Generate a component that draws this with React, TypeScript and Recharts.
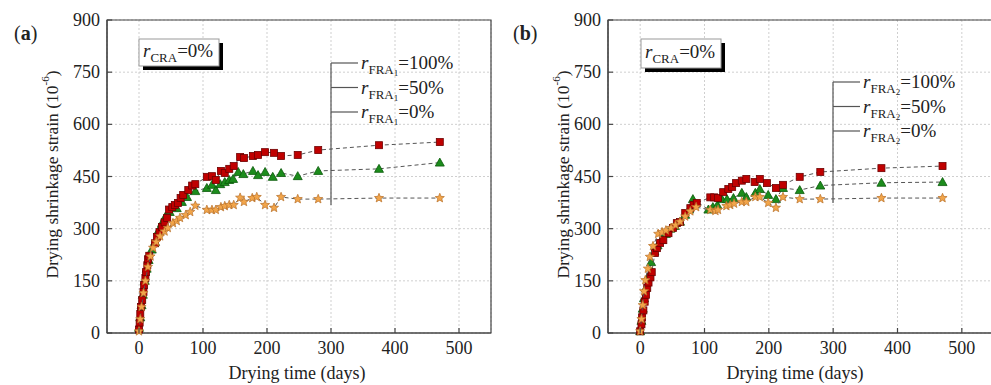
import { ScatterChart, Scatter, XAxis, YAxis, CartesianGrid, ReferenceArea } from 'recharts'

document.body.style.margin = '0'

const FONT = '"Liberation Serif", "Times New Roman", serif'

// drying time (days), shrinkage strain (1e-6)
const xTicks = [0, 100, 200, 300, 400, 500]
const yTicks = [0, 150, 300, 450, 600, 750, 900]

const aRed: [number, number][] = [
  [0, 10], [1, 30], [2, 55], [3, 75], [5, 95], [7, 118], [8, 138], [10, 158], [11, 175], [13, 195],
  [14, 212], [16, 222], [25, 258], [28, 276], [32, 290], [36, 305], [40, 318], [44, 331], [47, 355],
  [52, 362], [56, 368], [61, 374], [65, 388], [69, 397], [77, 411], [83, 424], [88, 428], [106, 449],
  [114, 451], [120, 440], [128, 466], [134, 460], [141, 472], [148, 480], [158, 506], [164, 503],
  [178, 509], [186, 512], [197, 520], [211, 518], [222, 509], [248, 512], [280, 526], [375, 540], [470, 549],
]
const aGreen: [number, number][] = [
  [0, 15], [2, 45], [4, 80], [6, 110], [9, 150], [12, 185], [15, 210], [20, 240], [25, 262], [31, 296],
  [36, 316], [41, 334], [48, 348], [59, 359], [67, 377], [75, 391], [88, 408], [106, 417], [114, 426],
  [120, 411], [127, 428], [134, 434], [141, 440], [147, 443], [155, 463], [163, 457], [178, 466],
  [186, 454], [197, 463], [209, 449], [222, 460], [248, 451], [280, 466], [375, 472], [470, 490],
]
const aOrange: [number, number][] = [
  [0, 5], [2, 40], [4, 75], [7, 115], [10, 150], [14, 190], [18, 220], [22, 245], [27, 262], [33, 278],
  [40, 292], [45, 302], [53, 316], [59, 322], [64, 331], [73, 339], [80, 348], [88, 366], [106, 354],
  [114, 354], [120, 354], [128, 362], [134, 365], [141, 368], [148, 368], [158, 389], [164, 377],
  [177, 388], [184, 391], [197, 368], [211, 360], [222, 391], [248, 385], [280, 385], [375, 388], [470, 388],
]

const bRed: [number, number][] = [
  [0, 5], [2, 25], [3, 45], [5, 65], [7, 90], [9, 110], [11, 130], [13, 145], [16, 160], [18, 175],
  [23, 230], [26, 244], [31, 259], [36, 267], [44, 287], [51, 302], [57, 316], [62, 319], [70, 345],
  [78, 359], [83, 368], [88, 374], [109, 390], [115, 390], [121, 388], [129, 405], [137, 414], [143, 420],
  [149, 431], [158, 438], [165, 443], [178, 434], [186, 443], [197, 431], [211, 417], [222, 426],
  [248, 449], [280, 463], [375, 474], [470, 480],
]
const bGreen: [number, number][] = [
  [0, 5], [2, 35], [4, 70], [6, 100], [9, 130], [12, 160], [17, 204], [22, 235], [27, 252], [33, 268],
  [40, 285], [47, 300], [54, 308], [62, 320], [70, 340], [76, 355], [82, 385], [106, 355], [113, 362],
  [120, 368], [127, 385], [135, 385], [145, 388], [158, 403], [165, 391], [179, 403], [186, 414],
  [199, 397], [211, 385], [222, 417], [248, 411], [280, 424], [375, 432], [470, 434],
]
const bOrange: [number, number][] = [
  [0, 5], [2, 40], [4, 80], [6, 120], [8, 152], [12, 185], [15, 219], [20, 250], [28, 285], [34, 290],
  [40, 295], [48, 302], [55, 310], [62, 320], [70, 335], [78, 350], [87, 362], [109, 354], [117, 351],
  [121, 354], [134, 365], [140, 368], [146, 372], [158, 377], [165, 377], [179, 391], [186, 391],
  [199, 374], [211, 360], [222, 391], [248, 385], [280, 385], [375, 388], [470, 388],
]

const toPts = (arr: [number, number][]) => arr.map(([x, y]) => ({ x, y }))

const Square = (p: any) => (
  <rect x={p.cx - 3.5} y={p.cy - 3.5} width={7} height={7} fill="#c00000" stroke="#6e0000" strokeWidth={0.8} />
)
const Tri = (p: any) => (
  <path
    d={`M${p.cx},${p.cy - 4.5}L${p.cx + 4.5},${p.cy + 3.5}L${p.cx - 4.5},${p.cy + 3.5}Z`}
    fill="#1c8c1c" stroke="#0b5a0b" strokeWidth={0.8}
  />
)
const Star = (p: any) => {
  let d = ''
  for (let i = 0; i < 10; i++) {
    const a = -Math.PI / 2 + (i * Math.PI) / 5
    const r = i % 2 ? 2.1 : 4.8
    d += `${i ? 'L' : 'M'}${p.cx + r * Math.cos(a)},${p.cy + r * Math.sin(a)}`
  }
  return <path d={d + 'Z'} fill="#f2a54a" stroke="#b8702a" strokeWidth={0.7} />
}

const XTick = ({ x, y, payload }: any) => (
  <g>
    <line x1={x} x2={x} y1={y} y2={y - 5} stroke="#444" strokeWidth={1.2} />
    <text x={x} y={y + 21} textAnchor="middle" fontSize={18} fill="#222" fontFamily={FONT}>{payload.value}</text>
  </g>
)
const YTick = ({ x, y, payload }: any) => (
  <g>
    <line x1={x} x2={x + 5} y1={y} y2={y} stroke="#444" strokeWidth={1.2} />
    <text x={x - 7} y={y + 6} textAnchor="end" fontSize={18} fill="#222" fontFamily={FONT}>{payload.value}</text>
  </g>
)

const line = { stroke: '#555', strokeWidth: 1, strokeDasharray: '4 3' }

function Panel({ red, green, orange, yAxisWidth, rightMargin, labelX, xLabelShift }: any) {
  return (
    <ScatterChart
      width={yAxisWidth + 388}
      height={385}
      margin={{ top: 20, right: rightMargin, bottom: 0, left: 0 }}
    >
      <CartesianGrid stroke="#cfcfcf" strokeDasharray="2 2" />
      <ReferenceArea x1={-50} x2={550} y1={0} y2={900} fill="none" stroke="#444" strokeWidth={1.2} />
      <XAxis
        type="number" dataKey="x" domain={[-50, 550]} ticks={xTicks}
        axisLine={{ stroke: '#444', strokeWidth: 1.2 }} tickLine={false} tickSize={0} tickMargin={0}
        tick={<XTick />} height={52}
        label={({ viewBox }: any) => (
          <text x={viewBox.x + viewBox.width / 2 + xLabelShift} y={viewBox.y + 46} textAnchor="middle"
            fontSize={18} fill="#222" fontFamily={FONT}>Drying time (days)</text>
        )}
      />
      <YAxis
        type="number" dataKey="y" domain={[0, 900]} ticks={yTicks}
        axisLine={{ stroke: '#444', strokeWidth: 1.2 }} tickLine={false} tickSize={0} tickMargin={0}
        tick={<YTick />} width={yAxisWidth}
        label={({ viewBox }: any) => {
          const cy = viewBox.y + viewBox.height / 2 - 2
          return (
            <text x={labelX} y={cy} transform={`rotate(-90, ${labelX}, ${cy})`} textAnchor="middle"
              dominantBaseline="central" fontSize={17.5} fill="#222" fontFamily={FONT}>
              Drying shrinkage strain (10<tspan dy={-7} fontSize={11}>-6</tspan><tspan dy={7}>)</tspan>
            </text>
          )
        }}
      />
      <Scatter data={toPts(green)} shape={Tri} line={line} isAnimationActive={false} />
      <Scatter data={toPts(red)} shape={Square} line={line} isAnimationActive={false} />
      <Scatter data={toPts(orange)} shape={Star} line={line} isAnimationActive={false} />
    </ScatterChart>
  )
}

const frLabels = ['100%', '50%', '0%']

function Rlabel({ x, y, sub, subNum, val }: any) {
  return (
    <text x={x} y={y} fontSize={19} fill="#222" fontFamily={FONT}>
      <tspan fontStyle="italic">r</tspan>
      <tspan fontSize={13} dy={5}>{sub}</tspan>
      {subNum ? <tspan fontSize={9} dy={2}>{subNum}</tspan> : null}
      <tspan dy={subNum ? -7 : -5}>{val}</tspan>
    </text>
  )
}

function Overlay() {
  const box = (x: number, y: number, h: number) => (
    <g>
      <rect x={x + 4} y={y + 4} width={80} height={h} fill="#000" />
      <rect x={x} y={y} width={80} height={h} fill="#fff" stroke="#999" strokeWidth={1} />
      <Rlabel x={x + 4} y={y + h / 2 + 4} sub="CRA" val="=0%" />
    </g>
  )
  const legend = (lx: number, top: number, step: number, bottom: number, n: string) => (
    <g>
      <line x1={lx} x2={lx} y1={top} y2={bottom} stroke="#555" strokeWidth={1.2} />
      {frLabels.map((v, i) => (
        <g key={v}>
          <line x1={lx} x2={lx + 27} y1={top + i * step} y2={top + i * step} stroke="#555" strokeWidth={1.2} />
          <Rlabel x={lx + 30} y={top + i * step + 6} sub="FRA" subNum={n} val={'=' + v} />
        </g>
      ))}
    </g>
  )
  return (
    <svg width={991} height={385} style={{ position: 'absolute', left: 0, top: 0, pointerEvents: 'none' }}>
      <text x={14} y={40} fontSize={20} fill="#222" fontFamily={FONT}>(<tspan fontWeight="bold">a</tspan>)</text>
      <text x={513} y={40} fontSize={20} fill="#222" fontFamily={FONT}>(<tspan fontWeight="bold">b</tspan>)</text>
      {box(139, 39, 27)}
      {box(641, 39, 29)}
      {legend(331, 63, 24.5, 205, '1')}
      {legend(833, 82, 24.5, 203, '2')}
    </svg>
  )
}

export default function App() {
  return (
    <div style={{ position: 'relative', width: 991, height: 385, overflow: 'hidden', background: '#fff' }}>
      <div style={{ position: 'absolute', left: 0, top: 0 }}>
        <Panel red={aRed} green={aGreen} orange={aOrange} yAxisWidth={107} rightMargin={4} labelX={52} xLabelShift={-2} />
      </div>
      <div style={{ position: 'absolute', left: 500, top: 0 }}>
        <Panel red={bRed} green={bGreen} orange={bOrange} yAxisWidth={108} rightMargin={2} labelX={63} xLabelShift={-6} />
      </div>
      <Overlay />
    </div>
  )
}
